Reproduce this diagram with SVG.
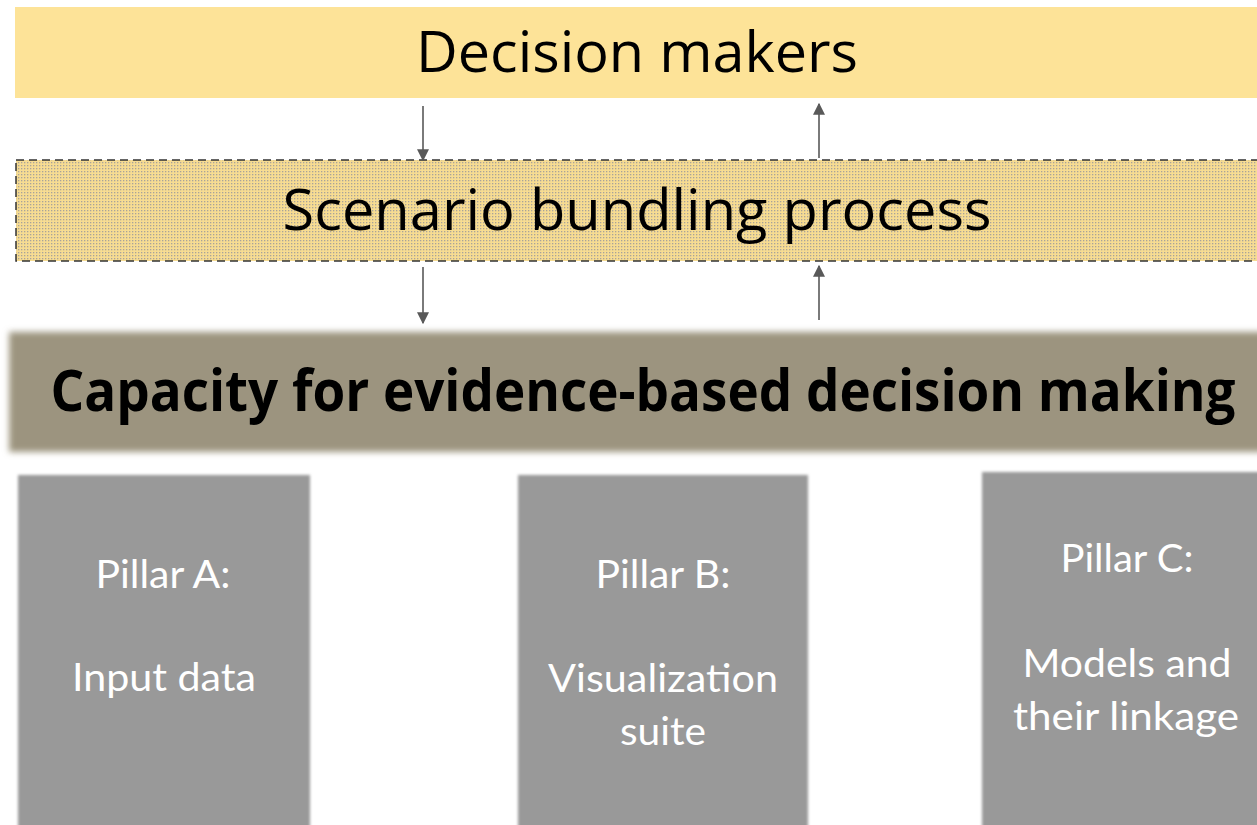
<svg xmlns="http://www.w3.org/2000/svg" width="1257" height="825" viewBox="0 0 1257 825">
  <style>
    .head { font-family: "Open Sans", "Noto Sans", sans-serif; fill: #000; text-anchor: middle; }
    .pillar-text { font-family: "Lato", "Open Sans", sans-serif; font-weight: 400; fill: #fff; text-anchor: middle; font-size: 39px; }
    .link { stroke: #595959; stroke-width: 1.6; fill: none; marker-end: url(#arrow); }
  </style>
  <defs>
    <marker id="arrow" viewBox="0 0 10 10" refX="9" refY="5" markerWidth="12" markerHeight="12" markerUnits="userSpaceOnUse" orient="auto">
      <path d="M0,0 L10,5 L0,10 z" fill="#595959"/>
    </marker>
    <pattern id="dotsLight" width="3" height="3" patternUnits="userSpaceOnUse">
      <rect width="3" height="3" fill="#F7DC92"/>
      <rect x="0" y="0" width="1.3" height="1.3" fill="#A8A39A"/>
    </pattern>
    <pattern id="dotsDark" width="3" height="3" patternUnits="userSpaceOnUse">
      <rect width="3" height="3" fill="#878070"/>
      <rect x="0" y="0" width="1.5" height="1.5" fill="#D2C8A4"/>
    </pattern>
    <filter id="soft" x="-5%" y="-20%" width="110%" height="140%">
      <feGaussianBlur stdDeviation="3"/>
    </filter>
    <filter id="softPillar" x="-10%" y="-10%" width="120%" height="120%">
      <feGaussianBlur stdDeviation="1.5"/>
    </filter>
  </defs>

  <rect width="1257" height="825" fill="#fff"/>

  <g id="decision-makers">
    <rect x="15" y="7" width="1250" height="91" fill="#FDE398"/>
    <text class="head" x="637" y="72" font-size="56" textLength="442" lengthAdjust="spacingAndGlyphs">Decision makers</text>
  </g>

  <g id="scenario-bundling">
    <rect x="16" y="160" width="1250" height="101" fill="url(#dotsLight)" stroke="#333" stroke-width="1.5" stroke-dasharray="8 5"/>
    <text class="head" x="637" y="230" font-size="57" textLength="709" lengthAdjust="spacingAndGlyphs">Scenario bundling process</text>
  </g>

  <g id="capacity">
    <rect x="9" y="332" width="1260" height="120" fill="url(#dotsDark)" filter="url(#soft)"/>
    <text class="head" x="643" y="411" font-size="58" font-weight="700" textLength="1185" lengthAdjust="spacingAndGlyphs">Capacity for evidence-based decision making</text>
  </g>

  <g id="pillar-a">
    <rect x="18" y="475" width="292" height="360" fill="#999" filter="url(#softPillar)"/>
    <text class="pillar-text" x="163" y="588" textLength="135" lengthAdjust="spacingAndGlyphs">Pillar A:</text>
    <text class="pillar-text" x="164" y="691" textLength="184" lengthAdjust="spacingAndGlyphs">Input data</text>
  </g>

  <g id="pillar-b">
    <rect x="518" y="475" width="290" height="360" fill="#999" filter="url(#softPillar)"/>
    <text class="pillar-text" x="663" y="588" textLength="135" lengthAdjust="spacingAndGlyphs">Pillar B:</text>
    <text class="pillar-text" x="663" y="692" textLength="230" lengthAdjust="spacingAndGlyphs">Visualization</text>
    <text class="pillar-text" x="663" y="745" textLength="86" lengthAdjust="spacingAndGlyphs">suite</text>
  </g>

  <g id="pillar-c">
    <rect x="982" y="472" width="290" height="363" fill="#999" filter="url(#softPillar)"/>
    <text class="pillar-text" x="1127" y="572" textLength="133" lengthAdjust="spacingAndGlyphs">Pillar C:</text>
    <text class="pillar-text" x="1127" y="677" textLength="209" lengthAdjust="spacingAndGlyphs">Models and</text>
    <text class="pillar-text" x="1126" y="730" textLength="226" lengthAdjust="spacingAndGlyphs">their linkage</text>
  </g>

  <g id="connectors">
    <line class="link" x1="423" y1="106" x2="423" y2="160"/>
    <line class="link" x1="819" y1="158" x2="819" y2="104"/>
    <line class="link" x1="423" y1="267" x2="423" y2="323"/>
    <line class="link" x1="819" y1="320" x2="819" y2="266"/>
  </g>
</svg>
